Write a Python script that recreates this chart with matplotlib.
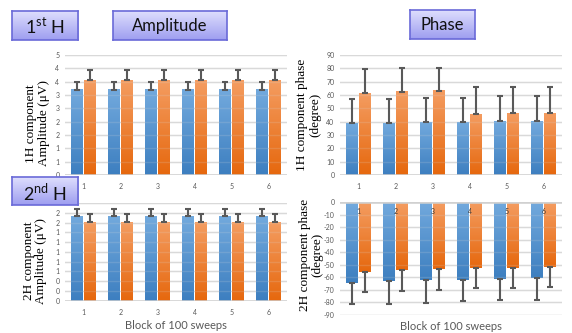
import numpy as np
import matplotlib
matplotlib.use('Agg')
import matplotlib.pyplot as plt
from matplotlib.colors import LinearSegmentedColormap

plt.rcParams['mathtext.fontset'] = 'custom'
plt.rcParams['mathtext.rm'] = 'Lato'

# block numbers
blocks = ['1', '2', '3', '4', '5', '6']

# 1st harmonic amplitude (uV)
amp1_blue = [3.2, 3.2, 3.2, 3.2, 3.2, 3.2]
amp1_blue_err = [0.3, 0.3, 0.3, 0.3, 0.3, 0.3]
amp1_orange = [3.55, 3.55, 3.55, 3.55, 3.55, 3.55]
amp1_orange_err = [0.4, 0.4, 0.4, 0.4, 0.4, 0.4]

# 1st harmonic phase (degree)
ph1_blue = [38.8, 38.8, 39.7, 39.7, 40.5, 40.5]
ph1_blue_err = [18.2, 18.2, 18.3, 18.3, 18.5, 18.5]
ph1_orange = [61.3, 62.3, 63.2, 45.7, 46.5, 46.5]
ph1_orange_err = [18.2, 17.7, 16.8, 20.0, 19.7, 19.7]

# 2nd harmonic amplitude (uV)
amp2_blue = [1.73, 1.73, 1.73, 1.73, 1.73, 1.73]
amp2_blue_err = [0.15, 0.15, 0.15, 0.15, 0.15, 0.15]
amp2_orange = [1.61, 1.61, 1.61, 1.61, 1.61, 1.61]
amp2_orange_err = [0.16, 0.16, 0.16, 0.16, 0.16, 0.16]

# 2nd harmonic phase (degree)
ph2_blue = [-64.2, -63.0, -62.4, -62.1, -61.0, -60.4]
ph2_blue_err = [17.2, 18.0, 17.9, 16.8, 17.4, 17.4]
ph2_orange = [-55.6, -54.2, -53.4, -52.8, -52.5, -51.5]
ph2_orange_err = [16.2, 16.3, 16.6, 15.8, 15.8, 16.3]

# tick labels as printed (rounded to integers)
amp1_ticks = [0, 0.5, 1, 1.5, 2, 2.5, 3, 3.5, 4, 4.5]
amp1_ticklabels = ['0', '1', '1', '2', '2', '3', '3', '4', '4', '5']
amp2_ticks = [0, 0.2, 0.4, 0.6, 0.8, 1.0, 1.2, 1.4, 1.6, 1.8, 2.0]
amp2_ticklabels = ['0', '0', '0', '1', '1', '1', '1', '1', '2', '2', '']
ph1_ticks = [0, 10, 20, 30, 40, 50, 60, 70, 80, 90]
ph2_ticks = [0, -10, -20, -30, -40, -50, -60, -70, -80, -90]

W, H = 572, 333
serif = 'Liberation Serif'
sans = 'Lato'
grey = '#595959'

fig = plt.figure(figsize=(W / 100, H / 100), dpi=100)


def px_axes(x0, y0, x1, y1):
    # pixel box (from top-left) -> figure axes
    return fig.add_axes([x0 / W, 1 - y1 / H, (x1 - x0) / W, (y1 - y0) / H])


blue_cm = LinearSegmentedColormap.from_list('b', ['#3d7fc0', '#72a9dd'])
orange_cm = LinearSegmentedColormap.from_list('o', ['#e6680e', '#f49c60'])
grad = np.linspace(0, 1, 64).reshape(-1, 1)
bw = 0.324
off = 0.189


def grad_bars(ax, xs, vals, errs, cmap, up=True):
    bars = ax.bar(xs, vals, bw, color='none', zorder=2)
    for b in bars:
        x0 = b.get_x()
        y0 = b.get_y()
        y1 = y0 + b.get_height()
        ax.imshow(grad, extent=[x0, x0 + bw, min(y0, y1), max(y0, y1)],
                  origin='lower', cmap=cmap, aspect='auto', zorder=2)
    if up:
        yerr = [np.zeros(len(errs)), errs]
    else:
        yerr = [errs, np.zeros(len(errs))]
    ax.errorbar(xs, vals, yerr=yerr, fmt='none', ecolor=grey, elinewidth=1.5,
                capsize=2.5, capthick=1.5, zorder=4)


def panel(ax, bl, bl_e, org, org_e, ylim, ticks, labels, up=True, xlabels=True):
    x = np.arange(len(blocks))
    for t in ticks:
        ax.axhline(t, color='#d9d9d9', lw=1, zorder=1)
        ax.axhline(t, color='#d9d9d9', lw=1, zorder=3, alpha=0.18)
    grad_bars(ax, x - off, bl, bl_e, blue_cm, up)
    grad_bars(ax, x + off, org, org_e, orange_cm, up)
    ax.set_xlim(-0.5, len(blocks) - 0.5)
    ax.set_ylim(*ylim)
    ax.set_yticks(ticks)
    ax.set_yticklabels(labels, fontsize=5, color=grey, family=sans)
    ax.axhline(0, color='#d0d0d0', lw=1.8, zorder=3)
    for s in ax.spines.values():
        s.set_visible(False)
    ax.tick_params(length=0, pad=4)
    if xlabels:
        ax.set_xticks(x)
        ax.set_xticklabels(blocks, fontsize=5, color=grey, family=sans)
    else:
        ax.set_xticks([])
    ax.tick_params(axis='x', pad=6)
    return ax


ax1 = px_axes(65, 55, 287, 175)
panel(ax1, amp1_blue, amp1_blue_err, amp1_orange, amp1_orange_err,
      (0, 4.5), amp1_ticks, amp1_ticklabels)
ax1.text(-0.125, 0.43, '1H component\nAmplitude (\u03bcV)', transform=ax1.transAxes,
         rotation=90, ha='center', va='center', fontsize=9.5, family=serif,
         linespacing=1.1)

ax2 = px_axes(340, 55, 562, 175)
panel(ax2, ph1_blue, ph1_blue_err, ph1_orange, ph1_orange_err,
      (0, 90), ph1_ticks, [str(t) for t in ph1_ticks])
ax2.text(-0.14, 0.5, '1H component phase\n(degree)', transform=ax2.transAxes,
         rotation=90, ha='center', va='center', fontsize=9.5, family=serif,
         linespacing=1.1)

ax3 = px_axes(65, 203, 287, 300.7)
panel(ax3, amp2_blue, amp2_blue_err, amp2_orange, amp2_orange_err,
      (0, 2.0), amp2_ticks, amp2_ticklabels)
ax3.set_xlabel('Block of 100 sweeps', fontsize=8, color=grey, family=sans,
               labelpad=3)
ax3.text(-0.135, 0.41, '2H component\nAmplitude (\u03bcV)', transform=ax3.transAxes,
         rotation=90, ha='center', va='center', fontsize=9.5, family=serif,
         linespacing=1.1)

ax4 = px_axes(340, 202.3, 562, 315)
panel(ax4, ph2_blue, ph2_blue_err, ph2_orange, ph2_orange_err,
      (-90, 0), ph2_ticks, [str(t) for t in ph2_ticks], up=False, xlabels=False)
for i, b in enumerate(blocks):
    ax4.text(i, -7.5, b, ha='center', va='center', fontsize=5, color='#404040',
             family=sans, zorder=5)
ax4.set_xlabel('Block of 100 sweeps', fontsize=8, color=grey, family=sans,
               labelpad=4)
ax4.text(-0.13, 0.53, '2H component phase\n(degree)', transform=ax4.transAxes,
         rotation=90, ha='center', va='center', fontsize=9.5, family=serif,
         linespacing=1.1)

# title boxes with a lavender gradient
box_cm = LinearSegmentedColormap.from_list('box', ['#9e9ef0', '#dedefd'])


def title_box(x0, y0, x1, y1, label, size):
    bx = px_axes(x0, y0, x1, y1)
    bx.imshow(grad, extent=[0, 1, 0, 1], origin='lower', cmap=box_cm, aspect='auto')
    bx.set_xticks([])
    bx.set_yticks([])
    for s in bx.spines.values():
        s.set_color('#6a6ad8')
        s.set_linewidth(1.2)
    bx.text(0.5, 0.47, label, ha='center', va='center', fontsize=size, family=sans,
            color='#111111', transform=bx.transAxes)


title_box(12, 11, 78, 40, '1$^{\\rm st}$ H', 13)
title_box(113, 11, 227, 40, 'Amplitude', 12)
title_box(410, 10, 475, 39, 'Phase', 12)
title_box(12, 177, 78, 205, '2$^{\\rm nd}$ H', 13)

fig.savefig('out.png', dpi=100)
